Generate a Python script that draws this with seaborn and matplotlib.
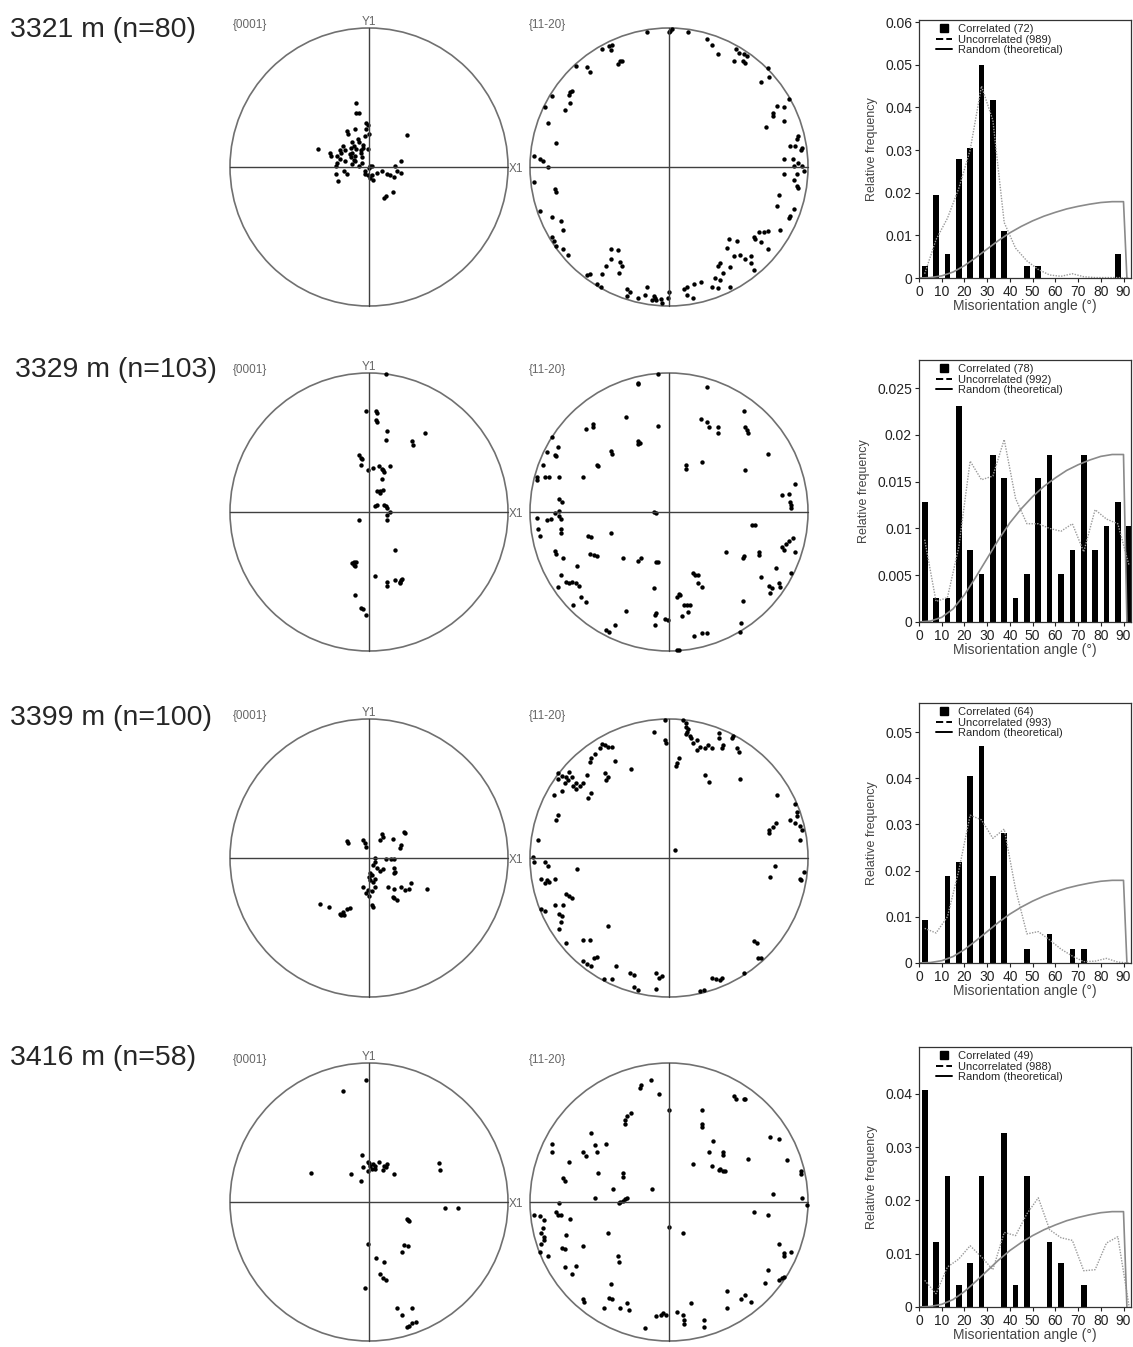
import numpy as np
import pandas as pd
import matplotlib
matplotlib.use('Agg')
import matplotlib.pyplot as plt
from matplotlib.lines import Line2D
from matplotlib.patches import Circle
import seaborn as sns

sns.set_style('white')
plt.rcParams['font.family'] = ['Liberation Sans', 'DejaVu Sans']

# ---------------- data ----------------
depth_labels = ['3321 m (n=80)', '3329 m (n=103)', '3399 m (n=100)', '3416 m (n=58)']
n_corr = [72, 78, 64, 49]
n_unc = [989, 992, 993, 988]

angle_bins = [2.5, 7.5, 12.5, 17.5, 22.5, 27.5, 32.5, 37.5, 42.5, 47.5,
              52.5, 57.5, 62.5, 67.5, 72.5, 77.5, 82.5, 87.5, 92.5]

corr_3321 = [0.0028, 0.0194, 0.0056, 0.0278, 0.0306, 0.0500, 0.0417, 0.0111, 0, 0.0028,
             0.0028, 0, 0, 0, 0, 0, 0, 0.0056, 0]
corr_3329 = [0.0128, 0.0026, 0.0026, 0.0231, 0.0077, 0.0051, 0.0179, 0.0154, 0.0026, 0.0051,
             0.0154, 0.0179, 0.0051, 0.0077, 0.0179, 0.0077, 0.0103, 0.0128, 0.0103]
corr_3399 = [0.0094, 0, 0.0188, 0.0219, 0.0406, 0.0469, 0.0188, 0.0281, 0, 0.0031,
             0, 0.0063, 0, 0.0031, 0.0031, 0, 0, 0, 0]
corr_3416 = [0.0408, 0.0122, 0.0245, 0.0041, 0.0082, 0.0245, 0, 0.0327, 0.0041, 0.0245,
             0, 0.0122, 0.0082, 0, 0.0041, 0, 0, 0, 0]

unc_3321 = [0.001, 0.009, 0.014, 0.021, 0.030, 0.045, 0.037, 0.013, 0.007, 0.004,
            0.002, 0.0007, 0.0004, 0.001, 0.0003, 0.0001, 0.0001, 0.0001, 0.0]
unc_3329 = [0.0088, 0.0022, 0.0026, 0.008, 0.0172, 0.0152, 0.0156, 0.0195, 0.0132, 0.0105,
            0.0105, 0.0100, 0.0097, 0.0105, 0.0075, 0.0120, 0.0110, 0.0105, 0.006]
unc_3399 = [0.0075, 0.0065, 0.010, 0.020, 0.032, 0.031, 0.027, 0.029, 0.016, 0.0063,
            0.0068, 0.005, 0.003, 0.0015, 0.0003, 0.0004, 0.001, 0.0002, 0.0]
unc_3416 = [0.005, 0.0025, 0.0075, 0.009, 0.0115, 0.0094, 0.007, 0.014, 0.0134, 0.0175,
            0.0205, 0.0145, 0.013, 0.0125, 0.0068, 0.007, 0.012, 0.0132, 0.0]

rand_angle = [0, 5, 10, 15, 20, 25, 30, 35, 40, 45, 50, 55, 60, 65, 70, 75, 80, 85, 90, 91.5]
rand_freq = [0, 0.0001, 0.0005, 0.0014, 0.0029, 0.0048, 0.0068, 0.0088, 0.0106, 0.0121,
             0.0134, 0.0145, 0.0154, 0.0162, 0.0168, 0.0173, 0.0177, 0.0179, 0.0179, 0]

y_max = [0.0605, 0.028, 0.0563, 0.0488]
y_ticks = [[0, 0.01, 0.02, 0.03, 0.04, 0.05, 0.06],
           [0, 0.005, 0.01, 0.015, 0.02, 0.025],
           [0, 0.01, 0.02, 0.03, 0.04, 0.05],
           [0, 0.01, 0.02, 0.03, 0.04]]

# pole figure points, in % of the primitive circle radius (x east, y north)
c_3321 = [(-9, 46), (-9, 39), (-7, 39), (-2, 32), (-1, 30), (-2, 27), (0, 24), (-3, 22), (-16, 26),
          (-10, 27), (-15, 24), (27, 23), (-37, 13), (-28, 10), (-27, 8), (-23, 8), (-21, 12), (-17, 12),
          (-13, 14), (-12, 18), (-11, 15), (-9, 13), (-12, 10), (-10, 8), (-6, 10), (-4, 14), (-1, 13),
          (-23, 3), (-21, 6), (-17, 4), (-13, 7), (-7, 1), (-5, 3), (1, 1), (2, 1), (0, -1), (23, 4),
          (19, 1), (23, -4), (9, -3), (13, -5), (15, -6), (18, -7), (-24, -5), (-16, -5), (-22, -10),
          (-3, -5), (-1, -6), (2, -6), (3, -9), (11, -22), (12, -21), (17, -18), (-18, -3), (-24, 1),
          (-10, 4), (-12, 2), (-19, 15), (-7, 18), (-4, 16), (-8, 20), (-5, 7), (-14, 9), (6, -4),
          (-20, 10), (-6, 12), (1, -8), (-3, -3), (20, -3), (-11, 5)]
a_3321 = [(-16, 97), (0, 97), (1, 98), (2, 99), (14, 97), (27, 92), (31, 88), (35, 81), (48, 85), (50, 82),
          (54, 81), (56, 80), (53, 76), (55, 75), (47, 76), (-48, 85), (-43, 87), (-42, 84), (-41, 88),
          (-37, 74), (-35, 76), (-34, 76), (-59, 72), (-57, 68), (-67, 73), (-70, 55), (-71, 54), (-72, 52),
          (-84, 51), (-89, 43), (-75, 41), (-71, 46), (-87, 32), (-81, 17), (71, 71), (72, 65), (66, 61),
          (86, 49), (78, 44), (83, 43), (75, 39), (75, 37), (83, 33), (70, 29), (93, 22), (92, 20), (87, 15),
          (91, 15), (96, 14), (95, 12), (83, 6), (89, 6), (93, 3), (96, 1), (90, 1), (97, -3), (92, -5),
          (90, -9), (92, -14), (93, -15), (83, -5), (79, -20), (78, -28), (90, -30), (87, -35), (86, -37),
          (80, -45), (71, -46), (68, -47), (65, -47), (61, -50), (62, -52), (66, -54), (71, -59), (43, -52),
          (49, -53), (42, -58), (51, -63), (59, -64), (47, -64), (55, -66), (59, -69), (61, -74), (37, -69),
          (35, -71), (44, -72), (39, -76), (33, -80), (37, -81), (31, -86), (35, -87), (44, -86), (23, -83),
          (18, -84), (13, -86), (11, -88), (13, -92), (17, -94), (0, -90), (-97, 8), (-93, 6), (-91, 4),
          (-87, 0), (-97, -11), (-82, -16), (-81, -18), (-93, -32), (-84, -36), (-78, -39), (-76, -45),
          (-84, -50), (-83, -53), (-81, -57), (-76, -59), (-73, -63), (-42, -59), (-37, -60), (-42, -66),
          (-35, -68), (-34, -71), (-36, -76), (-45, -71), (-48, -77), (-57, -77), (-59, -78), (-52, -84),
          (-49, -86), (-30, -88), (-28, -90), (-30, -93), (-22, -94), (-17, -92), (-16, -86), (-11, -93),
          (-9, -96), (-6, -95), (-12, -96), (-10, -94), (-1, -94), (-5, -98)]

c_3329 = [(12, 99), (-2, 73), (5, 73), (6, 71), (6, 65), (13, 58), (12, 52), (40, 57), (31, 51), (32, 48),
          (-7, 41), (-6, 39), (-6, 34), (-1, 30), (3, 32), (7, 33), (10, 30), (11, 29), (15, 33), (9, 24),
          (6, 15), (8, 14), (10, 16), (4, 4), (6, 5), (11, 5), (13, 3), (15, 0), (13, -2), (13, -6), (-7, -6),
          (19, -27), (-12, -37), (-11, -38), (-9, -36), (4, -46), (13, -50), (13, -53), (19, -49), (22, -50),
          (24, -48), (22, -51), (-10, -60), (-6, -69), (-4, -70), (-2, -74), (-11, -36), (-10, -39), (5, 66),
          (8, 15), (12, 4), (23, -49), (-5, 38), (9, 31)]
a_3329 = [(-8, 99), (-22, 93), (-22, 92), (-31, 68), (-8, 62), (-60, 60), (-55, 63), (-55, 61), (-22, 51),
          (-21, 50), (-22, 49), (-42, 44), (-41, 42), (-52, 34), (-51, 33), (-62, 25), (-84, 54), (-80, 47),
          (-88, 43), (-82, 41), (-81, 40), (-91, 34), (-95, 25), (-95, 23), (-89, 25), (-86, 25), (-79, 25),
          (-79, 9), (-77, 7), (-79, 1), (-82, -1), (-79, -3), (-78, -5), (-95, -4), (-88, -6), (-85, -5),
          (-94, -12), (-93, -17), (-78, -12), (-78, -15), (-11, 0), (-9, -1), (-58, -17), (-56, -18),
          (-42, -15), (-82, -28), (-81, -30), (-76, -33), (-57, -30), (-54, -31), (-52, -32), (-66, -39),
          (-33, -33), (-22, -35), (-20, -33), (-9, -36), (-8, -36), (-78, -45), (-74, -50), (-72, -51),
          (-70, -50), (-67, -51), (-65, -53), (-80, -54), (-63, -61), (-60, -65), (-69, -67), (-11, -55),
          (-31, -71), (-10, -74), (-9, -73), (-10, -81), (-3, -77), (-1, -78), (-39, -81), (-43, -86),
          (-45, -85), (6, -99), (7, -99), (27, 90), (54, 73), (23, 67), (27, 65), (29, 61), (35, 61), (35, 57),
          (55, 61), (56, 59), (57, 57), (71, 42), (12, 34), (12, 31), (24, 36), (55, 30), (91, 20), (81, 12),
          (86, 13), (87, 7), (88, 5), (88, 3), (60, -9), (62, -9), (81, -25), (84, -23), (86, -21), (89, -19),
          (83, -27), (91, -29), (41, -29), (53, -33), (54, -32), (65, -29), (65, -31), (77, -40), (66, -47),
          (88, -44), (72, -53), (74, -55), (79, -51), (80, -54), (73, -58), (53, -64), (52, -80), (17, -44),
          (19, -45), (21, -45), (21, -51), (24, -54), (7, -59), (8, -60), (6, -61), (11, -67), (13, -67),
          (15, -67), (14, -72), (9, -75), (18, -89), (24, -87), (27, -87), (51, -86)]

c_3399 = [(-16, 12), (-15, 11), (-4, 13), (-3, 11), (-2, 8), (9, 17), (10, 15), (8, 13), (17, 14), (25, 19),
          (26, 18), (23, 9), (22, 7), (4, 0), (4, -3), (3, -5), (12, -1), (16, -1), (18, -1), (8, -9),
          (10, -8), (18, -7), (19, -10), (18, -11), (1, -11), (2, -12), (0, -14), (1, -16), (4, -15),
          (3, -17), (-4, -21), (-1, -23), (-2, -25), (2, -24), (0, -27), (4, -21), (14, -21), (18, -22),
          (17, -28), (18, -29), (20, -30), (23, -21), (26, -23), (29, -22), (30, -18), (42, -22), (2, -34),
          (3, -35), (-35, -33), (-29, -35), (-21, -40), (-19, -39), (-18, -41), (-16, -37), (-14, -36),
          (-20, -41), (6, -7)]
a_3399 = [(-3, 99), (-3, 85), (-2, 83), (-11, 91), (10, 99), (12, 97), (12, 94), (14, 93), (13, 91), (15, 88),
          (12, 89), (16, 86), (20, 85), (17, 83), (22, 80), (20, 78), (26, 79), (31, 79), (28, 81), (7, 72),
          (6, 68), (5, 66), (36, 90), (36, 86), (38, 79), (39, 81), (45, 86), (46, 88), (49, 79), (50, 76),
          (26, 60), (29, 55), (51, 57), (-48, 82), (-46, 81), (-44, 80), (-41, 80), (-50, 79), (-53, 75),
          (-56, 72), (-57, 69), (-39, 70), (-27, 64), (-46, 61), (-44, 58), (-45, 56), (-80, 61), (-77, 59),
          (-74, 58), (-72, 62), (-70, 58), (-73, 56), (-69, 52), (-67, 54), (-64, 52), (-62, 54), (-67, 50),
          (-59, 60), (-75, 54), (-80, 57), (-83, 45), (-77, 48), (-58, 43), (-56, 47), (-80, 31), (-81, 27),
          (-94, 13), (-98, 1), (-97, -3), (-89, -3), (-87, -6), (-66, -8), (-92, -15), (-88, -16), (-86, -17),
          (-89, -18), (-82, -15), (-74, -26), (-72, -27), (-70, -29), (-92, -37), (-89, -38), (-82, -34),
          (-76, -34), (-79, -40), (-77, -42), (-78, -46), (-79, -51), (-44, -49), (-74, -61), (-62, -59),
          (-57, -59), (-62, -74), (-59, -76), (-56, -78), (-54, -72), (-52, -71), (-47, -87), (-41, -87),
          (-38, -78), (-28, -83), (-25, -84), (-25, -93), (-22, -95), (-9, -83), (-7, -86), (-5, -85),
          (-9, -94), (4, 6), (78, 45), (91, 39), (92, 33), (87, 27), (91, 25), (94, 23), (96, 20), (92, 30),
          (72, 18), (72, 20), (75, 22), (77, 25), (94, 13), (76, -6), (73, -14), (97, -10), (94, -15),
          (95, -16), (61, -60), (63, -61), (64, -72), (66, -72), (54, -83), (31, -86), (34, -87), (37, -88),
          (38, -86), (22, -96), (25, -95)]

c_3416 = [(-2, 88), (-19, 80), (-42, 21), (-5, 34), (-1, 29), (0, 28), (1, 26), (3, 27), (4, 26), (4, 24),
          (2, 24), (-4, 25), (-1, 22), (-6, 15), (-13, 20), (7, 29), (11, 26), (13, 27), (10, 23), (12, 25),
          (18, 20), (50, 28), (51, 23), (55, -4), (64, -4), (27, -12), (28, -13), (29, -14), (-1, -30),
          (25, -31), (28, -32), (24, -36), (5, -40), (11, -43), (8, -52), (10, -55), (12, -56), (-3, -62),
          (20, -76), (24, -81), (31, -76), (27, -90), (29, -89), (31, -87), (34, -86)]
a_3416 = [(-13, 88), (-20, 84), (-21, 82), (-7, 78), (0, 66), (-27, 64), (-30, 62), (-32, 59), (-32, 56),
          (-56, 50), (-45, 42), (-53, 41), (-52, 36), (-62, 36), (-60, 33), (-84, 42), (-84, 36), (-72, 29),
          (-51, 21), (-76, 17), (-75, 15), (-33, 21), (-33, 18), (-40, 9), (-12, 9), (-53, 3), (-36, -1),
          (-35, 0), (-33, 1), (-32, 2), (-30, 3), (-79, -1), (-81, -7), (-80, -9), (-78, -9), (-97, -9),
          (-93, -10), (-90, -13), (-71, -12), (-91, -19), (-92, -22), (-90, -25), (-90, -27), (-92, -30),
          (-93, -36), (-87, -39), (-74, -24), (-44, -22), (-62, -32), (-77, -33), (-75, -34), (-37, -39),
          (-36, -43), (-75, -47), (-67, -46), (-70, -52), (-42, -59), (-43, -69), (-41, -70), (-62, -70),
          (-61, -72), (-47, -76), (-35, -76), (-30, -73), (-29, -78), (-17, -91), (-9, -82), (-6, -81),
          (-4, -80), (-2, -81), (0, -18), (10, -22), (6, -79), (10, -81), (11, -85), (11, -88), (16, -73),
          (25, -85), (25, -90), (42, -64), (42, -76), (52, -70), (55, -67), (59, -72), (69, -58), (71, -49),
          (79, -56), (81, -55), (83, -54), (83, -39), (83, -37), (79, -30), (88, -36), (61, -7), (71, -9),
          (47, 76), (48, 74), (54, 74), (55, 74), (24, 66), (24, 56), (24, 54), (73, 47), (79, 45), (85, 30),
          (95, 22), (95, 20), (96, 3), (99, -2), (32, 44), (29, 36), (39, 36), (39, 34), (57, 31), (17, 27),
          (31, 26), (36, 23), (39, 22), (40, 22), (37, 24), (75, 6)]

corr_rows = [corr_3321, corr_3329, corr_3399, corr_3416]
unc_rows = [unc_3321, unc_3329, unc_3399, unc_3416]
c_rows = [c_3321, c_3329, c_3399, c_3416]
a_rows = [a_3321, a_3329, a_3399, a_3416]

# ---------------- layout (pixels) ----------------
W, H = 1133, 1347
fig = plt.figure(figsize=(W / 100, H / 100), dpi=100)

def px_rect(l, t, w, h):
    return [l / W, 1 - (t + h) / H, w / W, h / H]

circle_cx = [369, 669]
circle_cy = [167, 512, 858, 1202]
R = 139
pad = 1.03
hist_top = [20, 360, 703, 1047]
hist_bot = [278, 622, 963, 1307]
label_pos = [(10, 30), (15, 370), (10, 718), (10, 1058)]
grey = '#666666'

for i in range(4):
    cy = circle_cy[i]
    # pole figures
    for j, pts in enumerate([c_rows[i], a_rows[i]]):
        cx = circle_cx[j]
        ax = fig.add_axes(px_rect(cx - R * pad, cy - R * pad, 2 * R * pad, 2 * R * pad))
        df = pd.DataFrame(pts, columns=['x', 'y']) / 100.0
        ax.add_patch(Circle((0, 0), 1, fill=False, ec='#707070', lw=1.2))
        ax.plot([-1, 1], [0, 0], color='#404040', lw=1.0)
        ax.plot([0, 0], [-1, 1], color='#404040', lw=1.0)
        sns.scatterplot(data=df, x='x', y='y', ax=ax, s=10, color='black', linewidth=0, legend=False)
        ax.set_xlim(-pad, pad)
        ax.set_ylim(-pad, pad)
        ax.set_aspect('equal')
        ax.axis('off')

    top = cy - R
    fig.text(233 / W, 1 - (top - 3) / H, '{0001}', fontsize=8.5, color=grey, va='center')
    fig.text(529 / W, 1 - (top - 3) / H, '{11-20}', fontsize=8.5, color=grey, va='center')
    fig.text(circle_cx[0] / W, 1 - (top - 6) / H, 'Y1', fontsize=8.5, color=grey, ha='center', va='center')
    fig.text((circle_cx[0] + R + 1) / W, 1 - (cy + 2) / H, 'X1', fontsize=8.5, color=grey, va='center')

    lx, ly = label_pos[i]
    fig.text(lx / W, 1 - ly / H, depth_labels[i], fontsize=20.5, va='center')

    # histogram
    hx = fig.add_axes(px_rect(919, hist_top[i], 1131 - 919, hist_bot[i] - hist_top[i]))
    hd = pd.DataFrame({'angle': angle_bins, 'corr': corr_rows[i], 'unc': unc_rows[i]})
    sns.barplot(data=hd, x='angle', y='corr', ax=hx, native_scale=True, width=0.5,
                color='black', linewidth=0, errorbar=None, saturation=1)
    sns.lineplot(x=angle_bins, y=unc_rows[i], ax=hx, color='#9a9a9a', lw=1.0, linestyle=(0, (1, 1)))
    sns.lineplot(x=rand_angle, y=rand_freq, ax=hx, color='#8a8a8a', lw=1.2)
    hx.set_xlim(0, 93.3)
    hx.set_ylim(0, y_max[i])
    hx.set_xticks(range(0, 91, 10))
    hx.set_yticks(y_ticks[i])
    hx.set_yticklabels(['{:g}'.format(v) for v in y_ticks[i]])
    hx.tick_params(labelsize=10, direction='out', length=3, width=0.8, colors='#222222', pad=2)
    hx.tick_params(axis='both', bottom=True, left=True)
    hx.set_ylabel('Relative frequency', fontsize=9, color='#444444', labelpad=5)
    hx.set_xlabel('Misorientation angle (\u00b0)', fontsize=10, color='#444444', labelpad=0)
    for s in hx.spines.values():
        s.set_color('#333333')
        s.set_linewidth(0.9)
    handles = [Line2D([], [], marker='s', color='black', ls='none', markersize=6),
               Line2D([], [], color='black', ls='--', lw=1.4),
               Line2D([], [], color='black', lw=1.4)]
    labels = ['Correlated ({})'.format(n_corr[i]), 'Uncorrelated ({})'.format(n_unc[i]),
              'Random (theoretical)']
    hx.legend(handles, labels, loc='upper left', bbox_to_anchor=(0.05, 1.01), frameon=False,
              fontsize=8, handlelength=1.4, handletextpad=0.6, labelspacing=0.05, borderaxespad=0.2)

fig.savefig('out.png', dpi=100)
